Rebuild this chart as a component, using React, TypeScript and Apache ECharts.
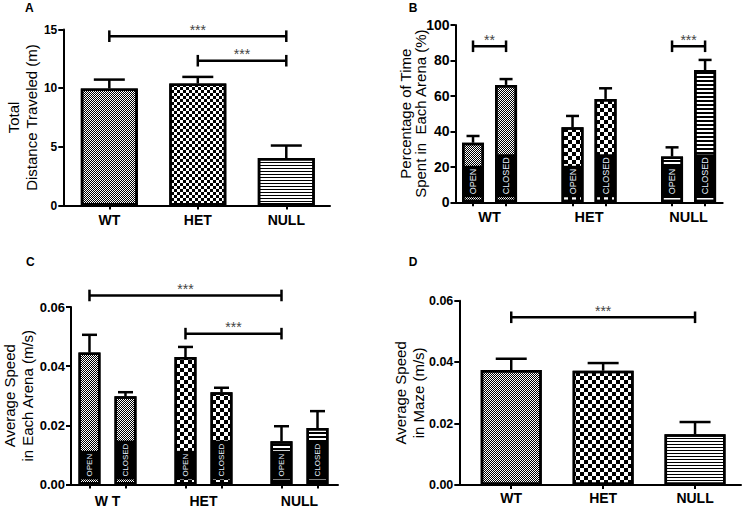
import React, { useEffect, useRef } from 'react';
import * as echarts from 'echarts';

const FONT = 'Liberation Sans, Arial, sans-serif';

// Categories
const genotypes = ['WT', 'HET', 'NULL'];
const genotypesC = ['W T', 'HET', 'NULL'];
const arenas = ['OPEN', 'CLOSED'];

// Panel A: total distance traveled (m)
const distanceMean = [9.97, 10.4, 4.04];
const distanceSem = [0.76, 0.56, 1.07];
const yTicksA = [0, 5, 10, 15];

// Panel B: % time spent in each arena
const timeOpenMean = [33.6, 42.3, 25.8];
const timeOpenSem = [3.8, 6.4, 5.2];
const timeClosedMean = [66.2, 58.3, 74.6];
const timeClosedSem = [3.3, 6.0, 5.7];
const yTicksB = [0, 20, 40, 60, 80, 100];

// Panel C: average speed in each arena (m/s)
const speedOpenMean = [0.0446, 0.0431, 0.0146];
const speedOpenSem = [0.006, 0.0034, 0.0051];
const speedClosedMean = [0.0298, 0.0312, 0.0191];
const speedClosedSem = [0.0014, 0.0015, 0.0057];
const yTicksC = [0, 0.02, 0.04, 0.06];

// Panel D: average speed in maze (m/s)
const mazeSpeedMean = [0.0374, 0.0372, 0.0165];
const mazeSpeedSem = [0.0037, 0.0025, 0.004];
const yTicksD = [0, 0.02, 0.04, 0.06];

// Significance brackets: [group, arena] pairs for grouped panels
const sigA = [
  { from: 0, to: 2, y: 14.43, stars: '***' },
  { from: 1, to: 2, y: 12.34, stars: '***' },
];
const sigB = [
  { from: [0, 0], to: [0, 1], y: 88, stars: '**' },
  { from: [2, 0], to: [2, 1], y: 88, stars: '***' },
];
const sigC = [
  { from: [0, 0], to: [2, 0], y: 0.0639, stars: '***' },
  { from: [1, 0], to: [2, 0], y: 0.051, stars: '***' },
];
const sigD = [{ from: 0, to: 2, y: 0.0546, stars: '***' }];

function checker(c: number) {
  return {
    symbol: 'rect', symbolSize: 1, symbolKeepAspect: false, color: '#000',
    dashArrayX: [[c, c], [0, c, c, 0]], dashArrayY: [c, 0],
  };
}
function stripes(line: number, gap: number) {
  return {
    symbol: 'rect', symbolSize: 1, symbolKeepAspect: false, color: '#000',
    dashArrayX: [1, 0], dashArrayY: [line, gap],
  };
}

const decalsA = [checker(1), checker(3), stripes(1, 2)];
const decalsB = [checker(1), checker(4), stripes(2, 2)];
const decalsC = [checker(1), checker(4), stripes(2, 2)];
const decalsD = [checker(1), checker(4), stripes(1, 2)];

function xAxisOpt(gi: number, min: number, max: number, ticks: number[], names: string[], fontSize: number, margin: number) {
  return {
    type: 'value', gridIndex: gi, min, max,
    axisLine: { show: true, onZero: false, lineStyle: { color: '#000', width: 2 } },
    axisTick: { show: true, customValues: ticks, length: 4, lineStyle: { color: '#000', width: 2 } },
    axisLabel: {
      customValues: [0, 1, 2], formatter: (v: number) => names[Math.round(v)] ?? '',
      fontSize, fontWeight: 'bold', color: '#000', fontFamily: FONT, margin,
    },
    splitLine: { show: false },
  };
}

function yAxisOpt(gi: number, ticks: number[], name: string, nameGap: number, lineHeight: number, fontSize: number, dec: number) {
  return {
    type: 'value', gridIndex: gi, min: ticks[0], max: ticks[ticks.length - 1], interval: ticks[1] - ticks[0],
    axisLine: { show: true, onZero: false, lineStyle: { color: '#000', width: 2 } },
    axisTick: { show: true, length: 5, lineStyle: { color: '#000', width: 2 } },
    axisLabel: {
      fontSize, fontWeight: 'bold', color: '#000', fontFamily: FONT, margin: 6,
      formatter: (v: number) => v.toFixed(dec),
    },
    splitLine: { show: false },
    name, nameLocation: 'middle', nameGap, nameMoveOverlap: false,
    nameTextStyle: { fontSize: 15, lineHeight, color: '#000', fontFamily: FONT, fontWeight: 'normal' },
  };
}

function errorSeries(ai: number, points: number[][], capW: number) {
  return {
    type: 'custom', xAxisIndex: ai, yAxisIndex: ai, data: points, encode: { x: 0, y: 1 },
    clip: false, silent: true, z: 5,
    renderItem: (_p: any, api: any) => {
      const x = api.value(0), top = api.value(1), err = api.value(2);
      const p0 = api.coord([x, top]);
      const p1 = api.coord([x, top + err]);
      return {
        type: 'group', children: [
          { type: 'line', shape: { x1: p0[0], y1: p0[1], x2: p1[0], y2: p1[1] }, style: { stroke: '#000', lineWidth: 2.5 } },
          { type: 'line', shape: { x1: p1[0] - capW / 2, y1: p1[1], x2: p1[0] + capW / 2, y2: p1[1] }, style: { stroke: '#000', lineWidth: 2.5 } },
        ],
      };
    },
  };
}

function bracketSeries(ai: number, items: { x1: number; x2: number; y: number; stars: string }[]) {
  return {
    type: 'custom', xAxisIndex: ai, yAxisIndex: ai, data: items.map((b) => [b.x1, b.x2, b.y]),
    encode: { x: [0, 1], y: 2 }, clip: false, silent: true, z: 6,
    renderItem: (params: any, api: any) => {
      const a = api.coord([api.value(0), api.value(2)]);
      const b = api.coord([api.value(1), api.value(2)]);
      const h = 5.8;
      const stroke = { stroke: '#000', lineWidth: 2.5 };
      return {
        type: 'group', children: [
          { type: 'line', shape: { x1: a[0], y1: a[1], x2: b[0], y2: b[1] }, style: stroke },
          { type: 'line', shape: { x1: a[0], y1: a[1] - h, x2: a[0], y2: a[1] + h }, style: stroke },
          { type: 'line', shape: { x1: b[0], y1: b[1] - h, x2: b[0], y2: b[1] + h }, style: stroke },
          {
            type: 'text', x: (a[0] + b[0]) / 2, y: a[1] - 6.5,
            style: {
              text: items[params.dataIndex].stars, fill: '#444', font: `14px ${FONT}`,
              align: 'center', verticalAlign: 'middle', textAlign: 'center', textVerticalAlign: 'middle',
            },
          },
        ],
      };
    },
  };
}

function simpleBars(ai: number, means: number[], decals: any[], barWidth: number) {
  return genotypes.map((g, i) => ({
    type: 'bar', name: g, xAxisIndex: ai, yAxisIndex: ai, data: [[i, means[i]]],
    barWidth, barGap: '-100%',
    itemStyle: { color: '#fff', borderColor: '#000', borderWidth: 2.5, decal: decals[i] },
  }));
}

function groupedBars(ai: number, open: number[], closed: number[], off: number, decals: any[], barWidth: number, fontSize: number) {
  return genotypes.map((g, i) => ({
    type: 'bar', name: g, xAxisIndex: ai, yAxisIndex: ai,
    data: [[i - off, open[i]], [i + off, closed[i]]],
    barWidth, barGap: '-100%',
    itemStyle: { color: '#fff', borderColor: '#000', borderWidth: 2.5, decal: decals[i] },
    label: {
      show: true, position: 'insideBottom', distance: 5, rotate: 90, align: 'left', verticalAlign: 'middle',
      formatter: (p: any) => arenas[p.dataIndex], color: '#e8f2ff', fontSize, lineHeight: 11,
      fontFamily: FONT, backgroundColor: '#000', padding: [5, 3],
    },
  }));
}

export default function App() {
  const ref = useRef<HTMLDivElement>(null);
  useEffect(() => {
    if (!ref.current) return;
    const chart = echarts.init(ref.current, undefined, { renderer: 'svg' });
    const offB = 0.166;
    const offC = 0.1875;
    const pos = (gp: number[], off: number) => gp[0] + (gp[1] === 0 ? -off : off);

    const option: any = {
      animation: false,
      backgroundColor: '#fff',
      textStyle: { fontFamily: FONT },
      grid: [
        { left: 63.3, top: 29.5, width: 266.7, height: 176, outerBoundsMode: 'none' },
        { left: 455.5, top: 25, width: 267.2, height: 177.3, outerBoundsMode: 'none' },
        { left: 71, top: 307, width: 267, height: 177.5, outerBoundsMode: 'none' },
        { left: 459.3, top: 300.7, width: 281.7, height: 184.3, outerBoundsMode: 'none' },
      ],
      xAxis: [
        xAxisOpt(0, -0.52, 2.494, [0, 1, 2], genotypes, 14, 7),
        xAxisOpt(1, -0.342, 2.343, [-offB, offB, 1 - offB, 1 + offB, 2 - offB, 2 + offB], genotypes, 14.5, 7),
        xAxisOpt(2, -0.38, 2.401, [-offC, offC, 1 - offC, 1 + offC, 2 - offC, 2 + offC], genotypesC, 14, 9),
        xAxisOpt(3, -0.565, 2.5, [0, 1, 2], genotypes, 14, 6),
      ],
      yAxis: [
        yAxisOpt(0, yTicksA, 'Total\nDistance Traveled (m)', 23, 18, 12, 0),
        yAxisOpt(1, yTicksB, 'Percentage of Time\nSpent in  Each Arena (%)', 28, 15, 14, 0),
        yAxisOpt(2, yTicksC, 'Average Speed\nin Each Arena (m/s)', 34.5, 18, 13, 2),
        yAxisOpt(3, yTicksD, 'Average Speed\nin Maze (m/s)', 32, 18, 12.5, 2),
      ],
      series: [
        ...simpleBars(0, distanceMean, decalsA, 57),
        errorSeries(0, genotypes.map((_, i) => [i, distanceMean[i], distanceSem[i]]), 31),
        bracketSeries(0, sigA.map((s) => ({ x1: s.from, x2: s.to, y: s.y, stars: s.stars }))),

        ...groupedBars(1, timeOpenMean, timeClosedMean, offB, decalsB, 22, 9),
        errorSeries(1, genotypes.flatMap((_, i) => [
          [i - offB, timeOpenMean[i], timeOpenSem[i]],
          [i + offB, timeClosedMean[i], timeClosedSem[i]],
        ]), 13),
        bracketSeries(1, sigB.map((s) => ({ x1: pos(s.from, offB), x2: pos(s.to, offB), y: s.y, stars: s.stars }))),

        ...groupedBars(2, speedOpenMean, speedClosedMean, offC, decalsC, 22, 8),
        errorSeries(2, genotypes.flatMap((_, i) => [
          [i - offC, speedOpenMean[i], speedOpenSem[i]],
          [i + offC, speedClosedMean[i], speedClosedSem[i]],
        ]), 15),
        bracketSeries(2, sigC.map((s) => ({ x1: pos(s.from, offC), x2: pos(s.to, offC), y: s.y, stars: s.stars }))),

        ...simpleBars(3, mazeSpeedMean, decalsD, 61),
        errorSeries(3, genotypes.map((_, i) => [i, mazeSpeedMean[i], mazeSpeedSem[i]]), 31),
        bracketSeries(3, sigD.map((s) => ({ x1: s.from, x2: s.to, y: s.y, stars: s.stars }))),
      ],
      graphic: [
        ['A', 25, 1.5], ['B', 408.7, 1.5], ['C', 26, 256], ['D', 408.7, 256],
      ].map(([t, x, y]) => ({
        type: 'text', x, y,
        style: { text: t, fill: '#000', font: `bold 12px ${FONT}`, verticalAlign: 'top', textVerticalAlign: 'top' },
      })),
    };
    chart.setOption(option);
    return () => chart.dispose();
  }, []);
  return <div ref={ref} style={{ position: 'absolute', left: 0, top: 0, width: 744, height: 508 }} />;
}
